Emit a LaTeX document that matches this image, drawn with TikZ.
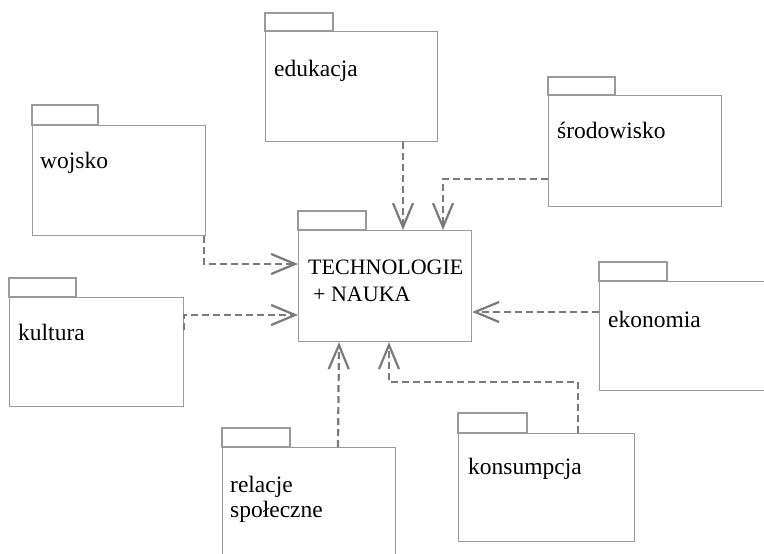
\documentclass[tikz,border=0pt]{standalone}
\usepackage{fontspec}
\setmainfont{Liberation Serif}
\usetikzlibrary{arrows.meta,calc}
\definecolor{boxgray}{HTML}{9A9A9A}
\definecolor{linegray}{HTML}{7A7A7A}
\begin{document}
\begin{tikzpicture}[x=1pt,y=-1pt,
  body/.style={draw=boxgray,line width=1.2pt,anchor=north west,inner sep=0pt,
               minimum width=173pt,minimum height=110pt},
  tab/.style={draw=boxgray,line width=1.2pt},
  lbl/.style={anchor=base west,inner sep=0pt,align=left,
              font=\fontsize{23.5}{26}\selectfont},
  dep/.style={draw=linegray,line width=2.2pt,dash pattern=on 7pt off 4pt,
              -{Straight Barb[length=24pt,width=20pt,line width=2.2pt]}}]
\useasboundingbox (0,0) rectangle (764,554);
\begin{scope}
\clip (0,0) rectangle (764,554);
% package: edukacja
\draw[tab] (265,13) rectangle (333,31);
\node[body,minimum width=172pt] (edu) at (265,31) {};
\node[lbl] (eduL) at (274,76) {edukacja};
% package: środowisko
\draw[tab] (548,77) rectangle (615,95);
\node[body,minimum height=111pt] (sro) at (548,95) {};
\node[lbl] (sroL) at (557,138) {środowisko};
% package: wojsko
\draw[tab] (32,105) rectangle (98,125);
\node[body] (woj) at (32,125) {};
\node[lbl] (wojL) at (40,168) {wojsko};
% package: technologie + nauka (base anchor sits on the last line)
\draw[tab] (298,211) rectangle (366,230);
\node[body,minimum height=111pt] (tech) at (298,230) {};
\node[lbl,font=\fontsize{22}{27}\selectfont] (techL) at (308,301)
  {TECHNOLOGIE\\\hspace*{5pt}+ NAUKA};
% package: kultura
\draw[tab] (9,278) rectangle (76,297);
\node[body,minimum width=174pt,minimum height=109pt] (kul) at (9,297) {};
\node[lbl] (kulL) at (18,340) {kultura};
% package: ekonomia
\draw[tab] (599,262) rectangle (667,281);
\node[body,minimum width=175pt,minimum height=109pt] (eko) at (599,281) {};
\node[lbl] (ekoL) at (608,327) {ekonomia};
% package: relacje społeczne
\draw[tab] (222,428) rectangle (290,447);
\node[body] (rel) at (222,447) {};
\node[lbl,font=\fontsize{23.5}{25}\selectfont] (relL) at (230,517)
  {relacje\\społeczne};
% package: konsumpcja
\draw[tab] (458,413) rectangle (527,433);
\node[body,minimum width=176pt,minimum height=108pt] (kon) at (458,433) {};
\node[lbl] (konL) at (468,474) {konsumpcja};
\end{scope}
% dependencies
\draw[dep] ($(edu.south west)+(138,0)$) -- ($(tech.north west)+(105,0)$);
\draw[dep] ($(sro.north west)+(0,84)$) -| ($(tech.north west)+(145,0)$);
\draw[dep] ($(woj.south west)+(172,0)$) |- ($(tech.north west)+(0,34)$);
\draw[dep] ($(kul.north east)+(0,33)$) -- ($(kul.north east)+(0,18)$)
  -- ($(tech.north west)+(0,85)$);
\draw[dep] ($(eko.north west)+(0,31)$) -- ($(tech.north east)+(0,82)$);
\draw[dep] ($(rel.north west)+(116,0)$) -- ($(tech.south west)+(41,0)$);
\draw[dep] ($(kon.north west)+(120,0)$) -- ($(kon.north west)+(120,-51)$)
  -| ($(tech.south west)+(91,0)$);
\end{tikzpicture}
\end{document}
